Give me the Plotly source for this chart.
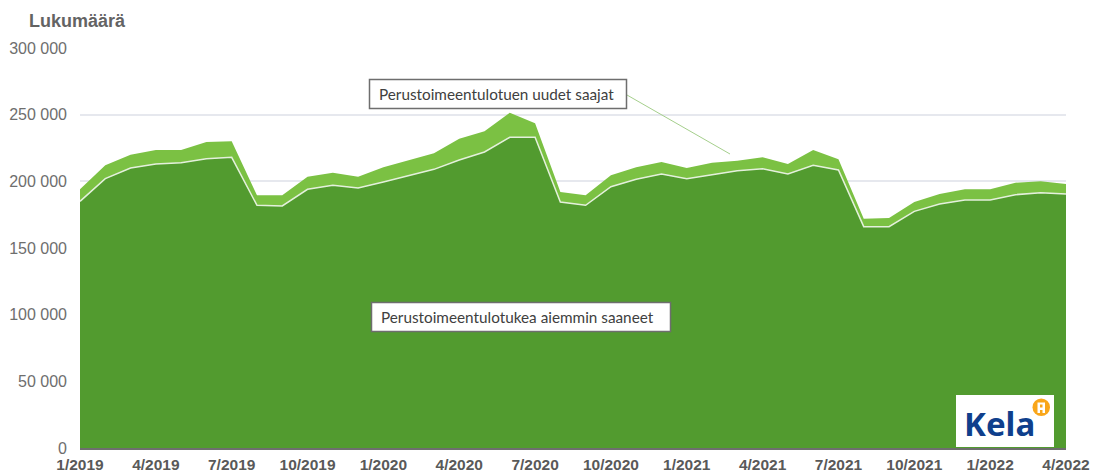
import plotly.graph_objects as go

months = [f"{m}/{y}" for y in (2019, 2020, 2021) for m in range(1, 13)] + [f"{m}/2022" for m in range(1, 5)]
tick_labels = months[::3]

aiemmin = [185000, 202000, 210000, 213000, 214000, 217000, 218000, 182000, 181500, 194000,
           197000, 195000, 199500, 204000, 209000, 216000, 222000, 233000, 233000, 184500,
           182000, 196000, 201500, 205500, 202000, 205000, 208000, 209500, 205500, 212000,
           208500, 166000, 166000, 177500, 183000, 186000, 186000, 190000, 191500, 190500]
uudet = [9000, 10000, 10000, 10500, 9500, 12500, 12000, 7500, 8000, 9500,
         9500, 8500, 11000, 11500, 12000, 16000, 15500, 18500, 10500, 7500,
         7500, 8500, 9000, 9000, 8000, 9000, 7500, 8500, 7500, 11500,
         8000, 6000, 6500, 7000, 7500, 8000, 8000, 9000, 8500, 7500]

W, H = 1102, 473
L, R, T, B = 80, 1066, 48, 448
px = lambda x: (x - L) / (R - L)
py = lambda y: (B - y) / (B - T)

DARK = "#529B2F"
LIGHT = "#7BC143"
ORANGE = "#F9A61A"

fig = go.Figure()
fig.add_trace(go.Scatter(x=months, y=aiemmin, stackgroup="a", mode="lines", name="Perustoimeentulotukea aiemmin saaneet",
                         line=dict(color="#E4F0DC", width=1.5), fillcolor=DARK))
fig.add_trace(go.Scatter(x=months, y=uudet, stackgroup="a", mode="lines", name="Perustoimeentulotuen uudet saajat",
                         line=dict(color=LIGHT, width=0), fillcolor=LIGHT))

def rect(x0, y0, x1, y1, fill, line=None):
    return dict(type="rect", xref="paper", yref="paper", x0=px(x0), y0=py(y0), x1=px(x1), y1=py(y1),
                line=line or dict(width=0), fillcolor=fill)

BOX = dict(color="#6E6E6E", width=1.5)
shapes = [
    dict(type="line", xref="paper", yref="paper", x0=px(627), y0=py(95), x1=px(730), y1=py(154),
         line=dict(color="#A5CF8C", width=1)),
    rect(369.5, 79.5, 626.5, 108.5, "white", BOX),
    rect(371.5, 302.5, 670.5, 331.5, "white", BOX),
    rect(956, 395, 1054, 447, "white"),
    dict(type="circle", xref="paper", yref="paper", x0=px(1032.5), y0=py(398.5), x1=px(1050), y1=py(416),
         line=dict(width=0), fillcolor=ORANGE),
    rect(1037.5, 402.5, 1045, 413, "white"),
    rect(1040, 404.5, 1042.5, 407.5, ORANGE),
    rect(1040, 410, 1042.5, 413, ORANGE),
]

def note(text, x, y, size, color, font, bold=False):
    return dict(text=f"<b>{text}</b>" if bold else text, xref="paper", yref="paper", x=px(x), y=py(y),
                xanchor="left", yanchor="middle", showarrow=False,
                font=dict(size=size, color=color, family=font))

annotations = [
    note("Lukumäärä", 27, 21, 18, "#636363", "Liberation Sans", bold=True),
    note("Perustoimeentulotuen uudet saajat", 377, 94, 15.3, "#404040", "Lato"),
    note("Perustoimeentulotukea aiemmin saaneet", 379, 317, 15.3, "#404040", "Lato"),
    note("Kela", 962, 423, 33, "#0F3F8C", "Noto Sans", bold=True),
]

fig.update_layout(
    width=W, height=H, autosize=False,
    margin=dict(l=L, r=W - R, t=T, b=H - B),
    paper_bgcolor="white", plot_bgcolor="white", showlegend=False,
    shapes=shapes, annotations=annotations,
    xaxis=dict(type="category", categoryorder="array", categoryarray=months, range=[0, 39],
               tickmode="array", tickvals=tick_labels, ticktext=[f"<b>{t}</b>" for t in tick_labels],
               tickangle=0, showgrid=False, showline=True, linecolor="#6E6E6E", linewidth=2, ticks="",
               automargin=False, ticklabelstandoff=1,
               tickfont=dict(family="Liberation Sans", size=15.5, color="#595959")),
    yaxis=dict(range=[0, 300000], tickmode="array",
               tickvals=[0, 50000, 100000, 150000, 200000, 250000, 300000],
               ticktext=["0", "50 000", "100 000", "150 000", "200 000", "250 000", "300 000"],
               showgrid=True, gridcolor="#E6E8EE", gridwidth=2, zeroline=False, showline=False, ticks="",
               automargin=False, ticklabelstandoff=12,
               tickfont=dict(family="Liberation Sans", size=16, color="#6E6E6E")),
)

fig.write_html("out.html", config=dict(displayModeBar=False),
               post_script="document.body.style.margin='0';document.documentElement.style.overflow='hidden';")
